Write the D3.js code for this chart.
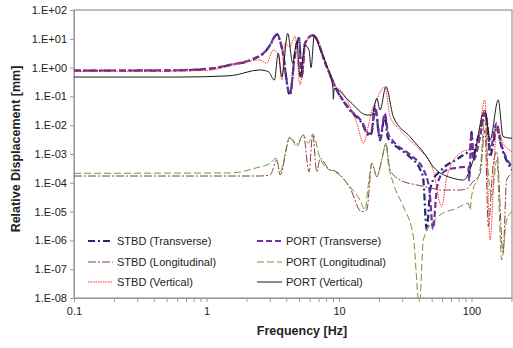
<!DOCTYPE html>
<html>
<head>
<meta charset="utf-8">
<script src="https://cdn.jsdelivr.net/npm/d3@7"></script>
<style>
  body { margin: 0; background: #fff; }
  text { font-family: "Liberation Sans", Arial, sans-serif; fill: #222; }
</style>
</head>
<body>
<div id="chart"></div>
<script>
// series names, in legend order
const seriesNames = [
  "STBD (Transverse)", "PORT (Transverse)",
  "STBD (Longitudinal)", "PORT (Longitudinal)",
  "STBD (Vertical)", "PORT (Vertical)"
];

// [frequency Hz, displacement mm]
const stbdTransverse = [
  [0.1,0.78],[0.5,0.79],[1.0,0.88],[1.5,1.22],[2.32,2.08],[2.77,3.5],[3.02,6.0],[3.4,14.0],
  [3.7,5],[4.26,0.11],[4.65,3],[4.99,10.5],[5.23,0.47],[5.54,7.0],[6.37,13.2],[8.07,1.07],
  [9.61,0.165],[12.1,0.033],[15.2,0.0098],[16.2,0.0052],[17.1,0.0043],[17.7,0.006],[18.7,0.042],
  [20.4,0.003],[22.2,0.022],[23.3,0.0038],[25.6,0.0023],[34.3,0.00078],[40.8,0.0003],[43.1,0.00015],
  [45.9,2.3e-6],[48.6,5e-5],[51.2,1.25e-4],[57.8,2.5e-4],[65,4.1e-4],[77.3,6.5e-4],[86.3,9.2e-4],
  [97.5,0.00138],[100,0.0059],[103,0.0008],[109,0.0025],[116,0.006],[126,0.0265],[134,0.004],
  [138,0.0008],[145,0.002],[155,0.0089],[165,0.0025],[202,0.00028]
];
const portTransverse = [
  [0.1,0.79],[0.5,0.8],[1.0,0.9],[1.5,1.25],[2.32,2.15],[2.77,3.6],[3.02,6.2],[3.4,15],
  [3.7,5],[4.26,0.12],[4.65,3],[4.99,10.7],[5.23,0.5],[5.54,7.1],[6.37,13.5],[8.07,1.07],
  [9.61,0.17],[12.1,0.035],[15.2,0.011],[16.2,0.0059],[17.1,0.005],[17.7,0.007],[18.7,0.044],
  [20.4,0.0035],[22.2,0.025],[23.5,0.005],[25.6,0.0028],[34.3,0.00095],[43.1,0.0003],[48,6e-5],
  [51.2,2.5e-6],[54.6,6e-5],[57.8,0.00016],[65,0.00028],[77.3,0.00033],[94.6,0.00036],[95.8,0.00012],
  [100,0.0054],[103,0.0006],[116,0.004],[126,0.0265],[134,0.005],[138,0.0014],[155,0.0119],
  [165,0.003],[202,0.00036]
];
const stbdLongitudinal = [
  [0.1,1.72e-4],[1.79,1.72e-4],[2.53,1.72e-4],[3.02,1.87e-4],[3.39,6.2e-4],[3.59,1.87e-4],
  [4.26,0.0036],[4.8,0.0022],[5.38,0.0046],[5.94,2.4e-4],[6.33,0.0049],[6.79,2.4e-4],[7.19,7e-4],
  [8.55,2.8e-4],[9.06,2.7e-4],[12.1,6.5e-5],[14.8,9.9e-6],[16.2,1.14e-5],[17.7,4.75e-4],[19.3,1.63e-4],
  [21.0,6.2e-4],[22.6,0.0022],[24.3,2.8e-4],[28.9,1.25e-4],[38.6,8.4e-5],[51.2,6.4e-5],[57.8,5.6e-5],
  [81.9,5.6e-5],[94.1,6.6e-5],[100,9.6e-5],[116,2.1e-4],[126,0.0068],[134,3.0e-6],[145,3.6e-4],
  [155,0.0012],[173,3.65e-7],[184,1.25e-4],[202,2.1e-4]
];
const portLongitudinal = [
  [0.1,2.14e-4],[1.5,2.2e-4],[2.53,3.6e-4],[3.02,4.75e-4],[3.35,7.1e-4],[3.59,2.4e-4],[4.26,0.004],
  [4.8,0.0018],[5.38,0.0046],[5.86,0.0024],[6.33,0.0049],[7.19,7.1e-4],[8.55,2.8e-4],[9.06,2.6e-4],
  [12.1,7.3e-5],[14.4,2.5e-5],[15.7,1.14e-5],[16.6,8e-5],[17.7,4.75e-4],[19.3,1.63e-4],[21.0,6.2e-4],
  [22.6,0.0024],[23.5,5e-4],[25.7,9.6e-5],[30.6,1.48e-5],[36.4,1.34e-6],[40.4,5e-9],[43.3,1.03e-6],
  [51.4,4.5e-6],[57.8,7.6e-6],[77.3,1.3e-5],[94.6,1.94e-5],[97.5,1.14e-5],[100,3.3e-5],[116,3e-4],
  [126,0.0152],[134,2e-4],[142,3.3e-5],[155,6e-4],[169,2.08e-7],[184,5.1e-6],[202,1e-5]
];
const stbdVertical = [
  [0.1,0.74],[0.5,0.76],[1.0,0.8],[1.79,1.41],[2.53,1.84],[2.85,1.41],[3.19,4.1],[3.48,2.74],
  [3.7,0.37],[3.91,7.1],[4.26,5.3],[4.65,12.5],[5.08,0.25],[5.54,5.3],[6.04,11.8],[6.59,11.8],
  [8.07,1.07],[8.81,0.37],[9.0,0.3],[10.7,0.131],[12.1,0.044],[13.6,0.0119],[15.3,0.00236],
  [16.6,0.0089],[17.7,0.0337],[18.7,0.059],[22.2,0.217],[24.3,0.0197],[28.9,0.0068],[38.6,0.00179],
  [40.8,0.00138],[51.2,0.00028],[59.6,1.48e-5],[65,0.00016],[81.9,0.00108],[109,0.00179],
  [126,0.075],[138,1.03e-6],[155,0.0089],[173,0.0024],[202,0.0012]
];
const portVertical = [
  [0.1,0.47],[0.63,0.47],[1.5,0.52],[2.53,0.83],[2.93,0.72],[3.25,0.37],[3.48,3.14],[3.7,0.48],
  [4.1,15.5],[4.47,1.44],[4.8,7.7],[5.08,0.47],[5.54,6.1],[5.94,4],[6.15,1.0],[6.5,12.5],[7.19,4.5],
  [8.07,1.2],[9.0,0.2],[9.06,0.08],[9.2,0.19],[12.1,0.0655],[16.2,0.0226],[17.7,0.0226],[19.3,0.0859],
  [20.4,0.0337],[22.6,0.217],[25.7,0.0197],[34.3,0.004],[45.9,0.0008],[51.4,0.00036],[72.9,0.000143],
  [86.9,0.000125],[103,0.00062],[126,0.0337],[138,0.00306],[159,0.075],[173,0.004],[202,0.0035]
];

const freqLabels = [0.1, 1, 10, 100];
const valueTicks = [1e2, 1e1, 1e0, 1e-1, 1e-2, 1e-3, 1e-4, 1e-5, 1e-6, 1e-7, 1e-8];

const seriesData = [stbdTransverse, portTransverse, stbdLongitudinal, portLongitudinal, stbdVertical, portVertical];
const seriesStyle = [
  { color: "#1f2d6e", width: 2.2, dash: "7,3,2,3" },
  { color: "#7030a0", width: 2.2, dash: "6,3" },
  { color: "#8c3d3b", width: 1, dash: "8,2,2,2" },
  { color: "#77933c", width: 1, dash: "7,3" },
  { color: "#ff3333", width: 1, dash: "1.5,1" },
  { color: "#1a1a1a", width: 1, dash: null }
];

const W = 513, H = 348;
const m = { left: 74, right: 512, top: 10, bottom: 298 };

const svg = d3.select("#chart").append("svg")
  .attr("width", W).attr("height", H);

const x = d3.scaleLog().domain([0.1, 202]).range([m.left, m.right]);
const y = d3.scaleLog().domain([1e-8, 1e2]).range([m.bottom, m.top]);

svg.append("defs").append("clipPath").attr("id", "plot")
  .append("rect").attr("x", m.left).attr("y", m.top)
  .attr("width", m.right - m.left).attr("height", m.bottom - m.top);

// plot frame
svg.append("rect")
  .attr("x", m.left).attr("y", m.top)
  .attr("width", m.right - m.left).attr("height", m.bottom - m.top)
  .attr("fill", "none").attr("stroke", "#808080").attr("stroke-width", 1);

// minor + major ticks on x
const xTicks = [];
[0.1, 1, 10, 100].forEach(d => { for (let k = 1; k < 10; k++) { const v = d * k; if (v <= 202) xTicks.push(v); } });

const fmtE = v => {
  const e = Math.round(Math.log10(v));
  return "1.E" + (e < 0 ? "-" : "+") + String(Math.abs(e)).padStart(2, "0");
};

const xAxis = svg.append("g")
  .attr("transform", "translate(0," + m.bottom + ")")
  .call(d3.axisBottom(x).tickValues(xTicks).tickSize(4).tickSizeOuter(0)
    .tickFormat(d => freqLabels.some(f => Math.abs(f - d) < 1e-9) ? String(d) : ""));
xAxis.selectAll("text").attr("font-size", 11).attr("dy", "0.95em");

const yAxis = svg.append("g")
  .attr("transform", "translate(" + m.left + ",0)")
  .call(d3.axisLeft(y).tickValues(valueTicks).tickSize(4).tickSizeOuter(0).tickFormat(fmtE));
yAxis.selectAll("text").attr("font-size", 11).attr("x", -7);

[xAxis, yAxis].forEach(a => {
  a.select(".domain").attr("stroke", "#999");
  a.selectAll(".tick line").attr("stroke", "#999");
  a.selectAll(".tick text").attr("fill", "#222");
});

// curves
const line = d3.line()
  .x(d => x(d[0]))
  .y(d => y(Math.max(d[1], 1e-9)))
  .curve(d3.curveMonotoneX);

const plot = svg.append("g").attr("clip-path", "url(#plot)");
seriesData.forEach((data, i) => {
  const s = seriesStyle[i];
  plot.append("path")
    .datum(data)
    .attr("d", line)
    .attr("fill", "none")
    .attr("stroke", s.color)
    .attr("stroke-width", s.width)
    .attr("stroke-dasharray", s.dash);
});

// legend
const legendCols = [88, 257];
const legendRows = [241, 262, 282];
seriesNames.forEach((name, i) => {
  const s = seriesStyle[i];
  const lx = legendCols[i % 2], ly = legendRows[Math.floor(i / 2)];
  svg.append("line")
    .attr("x1", lx).attr("x2", lx + 25).attr("y1", ly).attr("y2", ly)
    .attr("stroke", s.color).attr("stroke-width", s.width)
    .attr("stroke-dasharray", s.dash);
  svg.append("text")
    .attr("x", lx + 29).attr("y", ly + 4)
    .attr("font-size", 11)
    .text(name);
});

// axis titles
svg.append("text")
  .attr("x", 302).attr("y", 335)
  .attr("text-anchor", "middle")
  .attr("font-size", 12.5).attr("font-weight", "bold")
  .text("Frequency [Hz]");

svg.append("text")
  .attr("transform", "translate(20,149) rotate(-90)")
  .attr("text-anchor", "middle")
  .attr("font-size", 12.5).attr("font-weight", "bold")
  .text("Relative Displacement [mm]");
</script>
</body>
</html>
